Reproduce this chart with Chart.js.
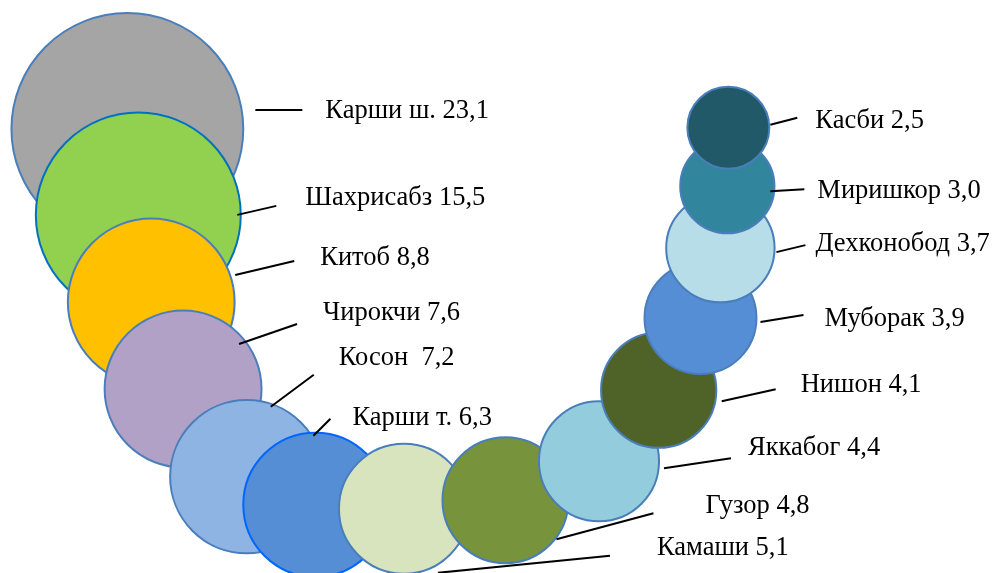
<!DOCTYPE html>
<html>
<head>
<meta charset="utf-8">
<script src="https://cdn.jsdelivr.net/npm/chart.js@4"></script>
<style>
  body { margin: 0; background: #fff; }
  #wrap { width: 995px; height: 573px; position: relative; }
</style>
</head>
<body>
<div id="wrap"><canvas id="chart"></canvas></div>
<script>
// districts and their values
let names = ["Карши ш.", "Шахрисабз", "Китоб", "Чирокчи", "Косон ", "Карши т.", "Камаши",
             "Гузор", "Яккабог", "Нишон", "Муборак", "Дехконобод", "Миришкор", "Касби"];
let values = [23.1, 15.5, 8.8, 7.6, 7.2, 6.3, 5.1, 4.8, 4.4, 4.1, 3.9, 3.7, 3.0, 2.5];
// where each bubble sits on the (hidden) 0..100 axes
let xs = [12.8, 13.9, 15.2, 18.4, 24.8, 31.7, 40.6, 50.8, 60.2, 66.2, 70.4, 72.4, 73.1, 73.2];
let ys = [77.5, 62.5, 47.3, 32.1, 16.8, 11.9, 11.2, 12.7, 19.5, 31.9, 44.5, 56.7, 67.5, 77.7];

let fills = ["#A5A5A5", "#92D050", "#FFC000", "#B2A1C7", "#8EB4E3", "#558ED5", "#D7E4BD",
             "#77933C", "#93CDDD", "#4F6228", "#558ED5", "#B7DEE8", "#31859C", "#215968"];
let strokes = ["#4A7EBB", "#0070C0", "#4A7EBB", "#4A7EBB", "#4A7EBB", "#0066FF", "#4A7EBB",
               "#4A7EBB", "#4A7EBB", "#4A7EBB", "#4A7EBB", "#4A7EBB", "#4A7EBB", "#4A7EBB"];

// leader line start, end and text start, relative to bubble centre (px)
let leaders = [
    [128, -19, 175, -19, 198, -18],
    [99, 0, 138, -9, 167, -17],
    [84, -27, 143, -41, 169, -44],
    [56, -45, 114, -65, 140, -76],
    [24, -70, 67, -102, 92, -119],
    [-2, -69, 15, -86, 37, -87],
    [34, 64, 206, 47, 253, 39],
    [51, 39, 148, 13, 200, 6],
    [65, 7, 132, -3, 149, -13],
    [63, 11, 117, -1, 142, -5],
    [60, 4, 103, -3, 124, 1],
    [56, 4, 85, -3, 95, -4],
    [43, 5, 77, 3, 90, 5],
    [42, -3, 69, -10, 87, -7]
];

let points = xs.map((x, i) => ({ x: x, y: ys[i] }));

let labelPlugin = {
    id: "bubbleLabels",
    afterDatasetsDraw(chart) {
        let ctx = chart.ctx;
        let meta = chart.getDatasetMeta(0);
        ctx.save();
        ctx.strokeStyle = "#000";
        ctx.lineWidth = 2;
        ctx.fillStyle = "#000";
        ctx.font = "26.5px 'Liberation Serif', 'Times New Roman', serif";
        ctx.textBaseline = "middle";
        meta.data.forEach((el, i) => {
            let l = leaders[i];
            ctx.beginPath();
            ctx.moveTo(el.x + l[0], el.y + l[1]);
            ctx.lineTo(el.x + l[2], el.y + l[3]);
            ctx.stroke();
            let txt = names[i] + " " + values[i].toFixed(1).replace(".", ",");
            ctx.fillText(txt, el.x + l[4], el.y + l[5]);
        });
        ctx.restore();
    }
};

new Chart("chart", {
    type: "bubble",
    data: {
        datasets: [{
            data: points,
            backgroundColor: fills,
            borderColor: strokes,
            borderWidth: 2,
            hoverRadius: 0,
            clip: false,
            radius: (c) => 10.1 + 33.7 * Math.log(values[c.dataIndex])
        }]
    },
    options: {
        responsive: true,
        maintainAspectRatio: false,
        animation: false,
        events: [],
        layout: { padding: 0, autoPadding: false },
        scales: {
            x: { type: "linear", min: 0, max: 100, display: false },
            y: { type: "linear", min: 0, max: 100, display: false }
        },
        plugins: {
            legend: { display: false },
            tooltip: { enabled: false }
        }
    },
    plugins: [labelPlugin]
});
</script>
</body>
</html>
